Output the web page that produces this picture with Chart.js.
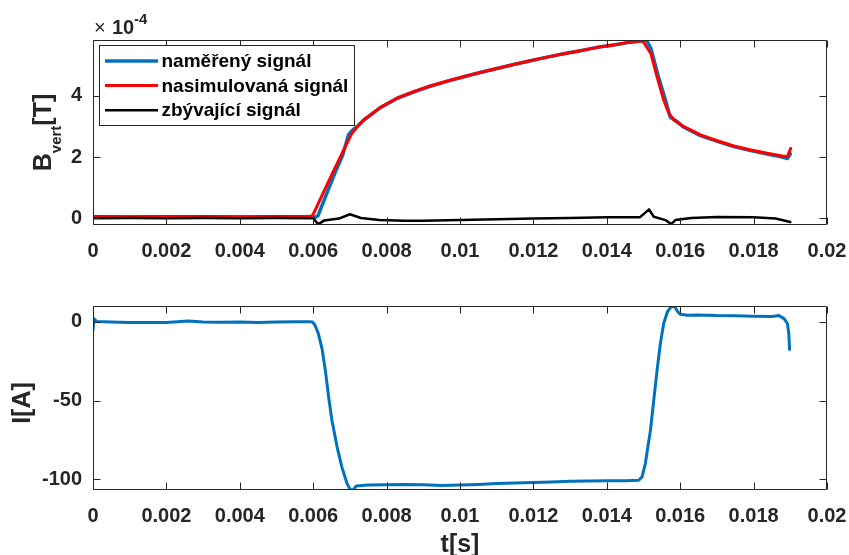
<!DOCTYPE html>
<html>
<head>
<meta charset="utf-8">
<script src="https://cdn.jsdelivr.net/npm/chart.js@4.4.1/dist/chart.umd.min.js"></script>
<style>
  body { margin: 0; background: #fff; }
  #wrap { position: relative; width: 849px; height: 555px; overflow: hidden; }
  #wrap canvas { position: absolute; left: 0; }
  #chartB { top: 0; }
  #chartI { top: 280px; }
</style>
</head>
<body>
<div id="wrap">
  <canvas id="chartB" width="849" height="280"></canvas>
  <canvas id="chartI" width="849" height="275"></canvas>
</div>
<script>
// ---- time axis [s] ----
const xTicks = [0, 0.002, 0.004, 0.006, 0.008, 0.01, 0.012, 0.014, 0.016, 0.018, 0.02];
const xTickLabels = ["0", "0.002", "0.004", "0.006", "0.008", "0.01", "0.012", "0.014", "0.016", "0.018", "0.02"];

// ---- B_vert, values in 1e-4 T ----
const tMeasured = [0, 0.001, 0.002, 0.003, 0.004, 0.005, 0.0059, 0.00605, 0.00613, 0.0063,
  0.0066, 0.0068, 0.00696, 0.00705, 0.0072, 0.00737, 0.00783, 0.00828, 0.00873, 0.00919,
  0.00965, 0.0101, 0.01055, 0.01101, 0.01146, 0.01192, 0.01237, 0.01283, 0.01328, 0.01374,
  0.01419, 0.01464, 0.01496, 0.01508, 0.0152, 0.0154, 0.0156, 0.01573, 0.0159, 0.0161,
  0.01655, 0.01701, 0.01746, 0.01792, 0.01837, 0.01878, 0.01892, 0.019];
const bMeasured = [0.05, 0.04, 0.05, 0.05, 0.04, 0.05, 0.05, 0.03, 0.08, 0.6,
  1.5, 2.05, 2.72, 2.85, 3.0, 3.2, 3.61, 3.91, 4.12, 4.31,
  4.47, 4.62, 4.76, 4.89, 5.02, 5.14, 5.26, 5.37, 5.47, 5.58,
  5.66, 5.75, 5.8, 5.82, 5.55, 4.65, 3.85, 3.3, 3.17, 2.97,
  2.7, 2.51, 2.34, 2.21, 2.1, 2.0, 1.95, 2.1];

const tSimulated = [0, 0.001, 0.002, 0.003, 0.004, 0.005, 0.0059, 0.00598, 0.0065, 0.00705,
  0.00719, 0.00737, 0.00783, 0.00828, 0.00873, 0.00919, 0.00965, 0.0101, 0.01055, 0.01101,
  0.01146, 0.01192, 0.01237, 0.01283, 0.01328, 0.01374, 0.01419, 0.01464, 0.01498, 0.0152,
  0.01537, 0.01555, 0.01569, 0.01583, 0.0161, 0.01655, 0.01701, 0.01746, 0.01792, 0.01837,
  0.01878, 0.01892, 0.01901];
const bSimulated = [0.06, 0.05, 0.06, 0.06, 0.05, 0.06, 0.06, 0.08, 1.41, 2.77,
  2.97, 3.2, 3.62, 3.92, 4.13, 4.32, 4.48, 4.62, 4.76, 4.89,
  5.02, 5.14, 5.26, 5.37, 5.47, 5.58, 5.66, 5.75, 5.79, 5.38,
  4.62, 3.86, 3.43, 3.21, 2.99, 2.72, 2.53, 2.36, 2.23, 2.12,
  2.03, 2.01, 2.28];

const tResidual = [0, 0.001, 0.002, 0.003, 0.004, 0.005, 0.006, 0.00614, 0.0063, 0.0067,
  0.007, 0.0073, 0.0078, 0.0085, 0.009, 0.01, 0.011, 0.012, 0.013, 0.014,
  0.0149, 0.01515, 0.01528, 0.0156, 0.01575, 0.01587, 0.0163, 0.017, 0.018, 0.0186, 0.019];
const bResidual = [0.0, 0.01, 0.0, 0.01, 0.0, 0.01, 0.0, -0.2, -0.07, -0.01,
  0.13, 0.01, -0.06, -0.08, -0.08, -0.06, -0.03, -0.01, 0.01, 0.03,
  0.03, 0.29, 0.05, -0.06, -0.19, -0.06, 0.01, 0.04, 0.03, -0.01, -0.12];

const bTicks = [0, 2, 4];
const bTickLabels = ["0", "2", "4"];

// ---- coil current [A] ----
const tCurrent = [0, 0.00003, 0.0001, 0.0005, 0.001, 0.0015, 0.002, 0.0026, 0.003, 0.0035,
  0.004, 0.0045, 0.005, 0.0055, 0.0059, 0.00598, 0.00605, 0.00614, 0.00624, 0.00633,
  0.00642, 0.00651, 0.00665, 0.00678, 0.00692, 0.00701, 0.0071, 0.00717, 0.0075, 0.008,
  0.0085, 0.009, 0.0095, 0.01, 0.0105, 0.011, 0.0115, 0.012, 0.0125, 0.013,
  0.0135, 0.014, 0.0145, 0.01487, 0.01496, 0.01505, 0.01519, 0.01528, 0.01537, 0.01546,
  0.01555, 0.01565, 0.01575, 0.01584, 0.01592, 0.016, 0.01619, 0.0165, 0.017, 0.0175,
  0.018, 0.0185, 0.01869, 0.01883, 0.01892, 0.01896, 0.01898];
const iCurrent = [-5, 2, 0.3, 0, -0.3, -0.4, -0.3, 0.6, 0, -0.2,
  -0.1, -0.3, 0, 0.1, 0.1, 0, -2.1, -7.4, -16.9, -30.6,
  -47.6, -62.4, -79.3, -92, -102.5, -106.5, -106.3, -104.2, -103.6, -103.3,
  -103.2, -103.4, -103.8, -103.6, -103.2, -102.6, -102.2, -102, -101.6, -101.1,
  -101, -100.9, -100.8, -100.5, -98.4, -89.9, -68.7, -49.7, -30.6, -13.7,
  -1.0, 6.3, 9.5, 10.0, 7.0, 4.9, 4.2, 4.4, 4.0, 3.9,
  3.6, 3.5, 4.0, 2.1, -1.0, -7.4, -17.5];

const iTicks = [-100, -50, 0];
const iTickLabels = ["-100", "-50", "0"];

//=========================================================
// shared look (MATLAB-like axes)
//=========================================================
const FONT = '"Liberation Sans", Arial, Helvetica, sans-serif';
const INK = "#262626";
const TICK_LEN = 7;

function points(ts, vs) {
    return ts.map((t, i) => ({ x: t, y: vs[i] }));
}

function xScale(height) {
    return {
        type: "linear", min: 0, max: 0.02,
        afterBuildTicks: s => { s.ticks = xTicks.map(v => ({ value: v })); },
        // fixed height, and no extra room for the end labels
        afterFit: s => { s.height = height; s.paddingLeft = 0; s.paddingRight = 0; },
        ticks: {
            callback: (v, i) => xTickLabels[i],
            autoSkip: false, maxRotation: 0, padding: 14,
            color: INK, font: { family: FONT, size: 20, weight: "bold" }
        },
        grid: { display: false, drawTicks: false },
        border: { display: false }
    };
}

function yScale(min, max, ticks, labels) {
    return {
        type: "linear", min: min, max: max,
        afterBuildTicks: s => { s.ticks = ticks.map(v => ({ value: v })); },
        afterFit: s => { s.width = 93; s.paddingTop = 0; s.paddingBottom = 0; },
        ticks: {
            callback: (v, i) => labels[i],
            autoSkip: false, padding: 11,
            color: INK, font: { family: FONT, size: 20, weight: "bold" }
        },
        grid: { display: false, drawTicks: false },
        border: { display: false }
    };
}

// box around the axes plus inward ticks on all four sides
const axesBox = {
    id: "axesBox",
    afterDatasetsDraw(chart) {
        const { ctx, chartArea: a, scales } = chart;
        const L = Math.round(a.left) + 0.5, R = Math.round(a.right) - 0.5;
        const T = Math.round(a.top) + 0.5, B = Math.round(a.bottom) - 0.5;
        ctx.save();
        ctx.strokeStyle = INK;
        ctx.lineWidth = 1;
        ctx.beginPath();
        ctx.rect(L, T, R - L, B - T);
        scales.x.ticks.forEach(t => {
            const px = Math.round(scales.x.getPixelForValue(t.value)) + 0.5;
            ctx.moveTo(px, B); ctx.lineTo(px, B - TICK_LEN);
            ctx.moveTo(px, T); ctx.lineTo(px, T + TICK_LEN);
        });
        scales.y.ticks.forEach(t => {
            const py = Math.round(scales.y.getPixelForValue(t.value)) + 0.5;
            ctx.moveTo(L, py); ctx.lineTo(L + TICK_LEN, py);
            ctx.moveTo(R, py); ctx.lineTo(R - TICK_LEN, py);
        });
        ctx.stroke();
        ctx.restore();
    }
};

//=========================================================
// top axes: magnetic field
//=========================================================
const fieldTexts = {
    id: "fieldTexts",
    afterDraw(chart) {
        const { ctx, chartArea: a } = chart;
        ctx.save();
        ctx.fillStyle = INK;

        // exponent above the y axis
        ctx.textBaseline = "alphabetic";
        ctx.font = "20px " + FONT;
        ctx.fillText("\u00d7", a.left + 1, a.top - 6);
        ctx.font = "bold 20px " + FONT;
        ctx.fillText("10", a.left + 19, a.top - 6);
        ctx.font = "bold 15px " + FONT;
        ctx.fillText("-4", a.left + 41, a.top - 16);

        // y label B_vert[T], rotated
        ctx.translate(51, (a.top + a.bottom) / 2);
        ctx.rotate(-Math.PI / 2);
        ctx.font = "bold 25px " + FONT;
        const wB = ctx.measureText("B").width;
        const wT = ctx.measureText("[T]").width;
        ctx.font = "bold 15px " + FONT;
        const wSub = ctx.measureText("vert").width;
        let x = -(wB + wSub + wT) / 2;
        ctx.font = "bold 25px " + FONT;
        ctx.fillText("B", x, 0);
        ctx.font = "bold 15px " + FONT;
        ctx.fillText("vert", x + wB, 9.5);
        ctx.font = "bold 25px " + FONT;
        ctx.fillText("[T]", x + wB + wSub, 0);
        ctx.restore();

        // legend box in the upper left corner
        const lx = a.left + 6.5, ly = a.top + 5.5, lw = 255, lh = 80;
        ctx.save();
        ctx.fillStyle = "#fff";
        ctx.fillRect(lx, ly, lw, lh);
        ctx.strokeStyle = INK;
        ctx.lineWidth = 1;
        ctx.strokeRect(lx, ly, lw, lh);
        ctx.font = "bold 19px " + FONT;
        ctx.textBaseline = "middle";
        chart.data.datasets.forEach((ds, i) => {
            const y = ly + 15.5 + i * 24.6;
            ctx.strokeStyle = ds.borderColor;
            ctx.lineWidth = ds.borderWidth;
            ctx.beginPath();
            ctx.moveTo(lx + 5.5, y);
            ctx.lineTo(lx + 58.5, y);
            ctx.stroke();
            ctx.fillStyle = "#000";
            ctx.fillText(ds.label, lx + 62, y + 1);
        });
        ctx.restore();
    }
};

new Chart(document.getElementById("chartB"), {
    type: "line",
    data: {
        datasets: [
            { label: "naměřený signál", data: points(tMeasured, bMeasured), borderColor: "#0072BD", borderWidth: 3.5, order: 3 },
            { label: "nasimulovaná signál", data: points(tSimulated, bSimulated), borderColor: "#FF0000", borderWidth: 3, order: 2 },
            { label: "zbývající signál", data: points(tResidual, bResidual), borderColor: "#000000", borderWidth: 2.5, order: 1 }
        ]
    },
    options: {
        responsive: false, animation: false, devicePixelRatio: 1,
        layout: { padding: { top: 40, right: 22, left: 0, bottom: 0 } },
        elements: { point: { radius: 0 }, line: { tension: 0, borderJoinStyle: "round", borderCapStyle: "round" } },
        plugins: { legend: { display: false }, tooltip: { enabled: false } },
        scales: { x: xScale(55), y: yScale(-0.22, 5.82, bTicks, bTickLabels) }
    },
    plugins: [axesBox, fieldTexts]
});

//=========================================================
// bottom axes: current
//=========================================================
const currentTexts = {
    id: "currentTexts",
    afterDraw(chart) {
        const { ctx, chartArea: a } = chart;
        ctx.save();
        ctx.fillStyle = INK;
        ctx.font = "bold 25px " + FONT;
        ctx.textAlign = "center";
        ctx.textBaseline = "alphabetic";
        ctx.fillText("t[s]", (a.left + a.right) / 2, chart.height - 3);
        ctx.translate(30, (a.top + a.bottom) / 2 + 5);
        ctx.rotate(-Math.PI / 2);
        ctx.fillText("I[A]", 0, 0);
        ctx.restore();
    }
};

new Chart(document.getElementById("chartI"), {
    type: "line",
    data: {
        datasets: [
            { label: "I", data: points(tCurrent, iCurrent), borderColor: "#0072BD", borderWidth: 3 }
        ]
    },
    options: {
        responsive: false, animation: false, devicePixelRatio: 1,
        layout: { padding: { top: 26, right: 22, left: 0, bottom: 0 } },
        elements: { point: { radius: 0 }, line: { tension: 0, borderJoinStyle: "round", borderCapStyle: "round" } },
        plugins: { legend: { display: false }, tooltip: { enabled: false } },
        scales: { x: xScale(65), y: yScale(-106.7, 10.1, iTicks, iTickLabels) }
    },
    plugins: [axesBox, currentTexts]
});
</script>
</body>
</html>
